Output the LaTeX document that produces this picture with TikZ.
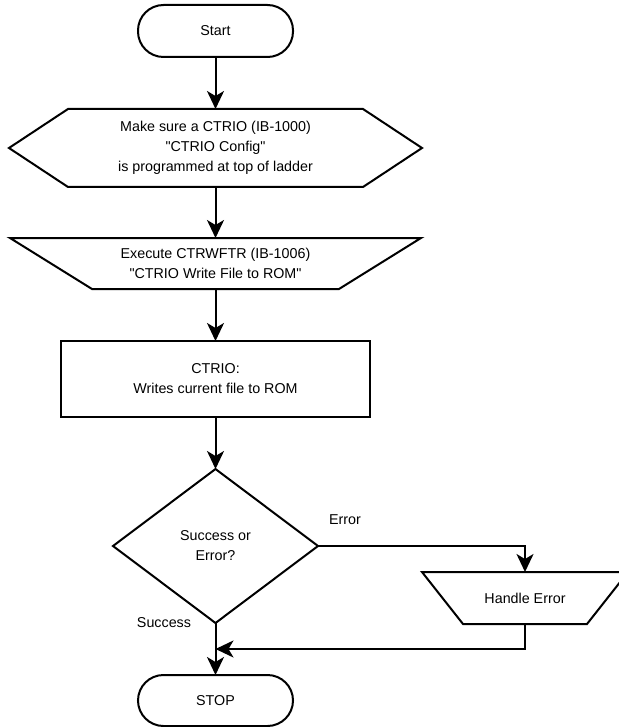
\documentclass[tikz,border=0pt]{standalone}
\usepackage{fontspec}
\setmainfont{Liberation Sans}[Ligatures=TeXOff]
\usetikzlibrary{arrows.meta,calc}
\begin{document}
\begin{tikzpicture}[x=1pt,y=-1pt,
  lw/.style={line width=2pt},
  arr/.style={lw,-{Stealth[length=18pt,width=17pt,inset=5pt]}},
  box/.style={inner sep=0pt,outer sep=0pt,align=center,
    font=\fontsize{14.3pt}{20pt}\selectfont},
  term/.style={box,draw,lw,rounded corners=25.5pt},
  lbl/.style={inner sep=0pt,font=\fontsize{14.3pt}{20pt}\selectfont}
]
\useasboundingbox (0,0) rectangle (618,727);

% Start
\node[term,minimum width=155pt,minimum height=52pt] (start) at (215.5,31) {Start};

% Hexagon
\node[box,minimum width=413pt,minimum height=78pt] (hex) at (215.5,148)
  {Make sure a CTRIO (IB-1000)\\"CTRIO Config"\\is programmed at top of ladder};
\draw[lw,line join=miter] (hex.west) -- ($(hex.north west)+(59,0)$) -- ($(hex.north east)+(-59,0)$)
  -- (hex.east) -- ($(hex.south east)+(-59,0)$) -- ($(hex.south west)+(59,0)$) -- cycle;

% Manual operation trapezoid
\node[box,minimum width=411pt,minimum height=51pt] (trap) at (215.5,263.5)
  {Execute CTRWFTR (IB-1006)\\"CTRIO Write File to ROM"};
\draw[lw] (trap.north west) -- (trap.north east) -- ($(trap.south east)+(-82,0)$)
  -- ($(trap.south west)+(82,0)$) -- cycle;

% Process rectangle
\node[box,draw,lw,minimum width=309pt,minimum height=76pt] (proc) at (215.5,379)
  {CTRIO:\\Writes current file to ROM};

% Decision diamond
\node[box,minimum width=205pt,minimum height=154pt] (dec) at (215.5,546)
  {Success or\\Error?};
\draw[lw] (dec.north) -- (dec.east) -- (dec.south) -- (dec.west) -- cycle;

% Handle Error trapezoid
\node[box,minimum width=206pt,minimum height=52pt] (herr) at (525,598) {Handle Error};
\draw[lw] (herr.north west) -- (herr.north east) -- ($(herr.south east)+(-41,0)$)
  -- ($(herr.south west)+(41,0)$) -- cycle;

% STOP
\node[term,minimum width=155pt,minimum height=51pt] (stop) at (215.5,700.5) {STOP};

% Labels
\node[lbl] (errl) at (345,520) {Error};
\node[lbl] (succl) at (164,623) {Success};

% Connectors
\coordinate (join) at (215.5,649);
\draw[arr] (start.south) -- (hex.north);
\draw[arr] (hex.south) -- (trap.north);
\draw[arr] (trap.south) -- (proc.north);
\draw[arr] (proc.south) -- (dec.north);
\draw[arr] (dec.south) -- (stop.north);
\draw[arr] (dec.east) -| (herr.north);
\draw[arr] (herr.south) |- (join);
\end{tikzpicture}
\end{document}
